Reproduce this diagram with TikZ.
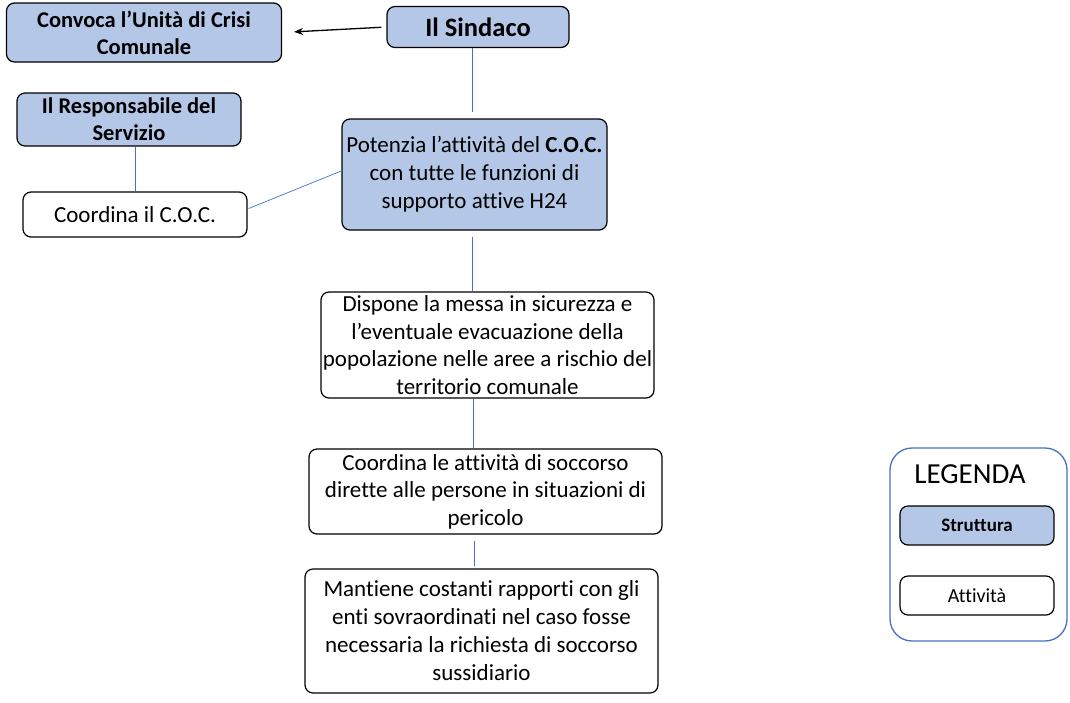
\documentclass[tikz,border=0pt]{standalone}
\usepackage{fontspec}
\setmainfont[Ligatures=NoCommon]{Carlito}
\usetikzlibrary{arrows.meta}
\definecolor{boxblue}{HTML}{B4C7E7}
\definecolor{lineblue}{HTML}{4472C4}
\begin{document}
\begin{tikzpicture}[x=1pt,y=-1pt,
  base/.style={draw=black,line width=1.2pt,rounded corners=8pt,inner sep=0pt,align=center},
  struct/.style={base,fill=boxblue,font=\bfseries\fontsize{22.5}{27}\selectfont},
  act/.style={base,fill=white,font=\fontsize{23}{27.5}\selectfont},
  conn/.style={draw=lineblue,line width=0.7pt}]
\useasboundingbox (0,0) rectangle (1070,702);
\node[struct,minimum width=275pt,minimum height=59pt] (conv) at (144,32.5) {Convoca l’Unità di Crisi\\Comunale};
\node[struct,minimum width=182pt,minimum height=41pt,font=\bfseries\fontsize{26.5}{30}\selectfont] (sind) at (478,27) {Il Sindaco};
\node[struct,minimum width=224pt,minimum height=53pt] (resp) at (129,119.5) {Il Responsabile del\\Servizio};
\node[act,minimum width=224pt,minimum height=45pt] (coc) at (135,214.5) {Coordina il C.O.C.};
\node[act,fill=boxblue,minimum width=265pt,minimum height=111pt,font=\fontsize{23}{28}\selectfont] (pot) at (474.5,174.5) {Potenzia l’attività del \textbf{C.O.C.}\\con tutte le funzioni di\\supporto attive H24};
\node[act,minimum width=333pt,minimum height=106pt] (disp) at (487.5,345) {Dispone la messa in sicurezza e\\l’eventuale evacuazione della\\popolazione nelle aree a rischio del\\territorio comunale};
\node[act,minimum width=353pt,minimum height=85pt] (coord) at (485.5,491.5) {Coordina le attività di soccorso\\dirette alle persone in situazioni di\\pericolo};
\node[act,minimum width=353pt,minimum height=124pt,font=\fontsize{23}{28}\selectfont] (mant) at (481.5,631) {Mantiene costanti rapporti con gli\\enti sovraordinati nel caso fosse\\necessaria la richiesta di soccorso\\sussidiario};
% legend
\node[draw=lineblue,line width=1.3pt,rounded corners=22pt,minimum width=177pt,minimum height=193pt,inner sep=0pt] (leg) at (978.5,544.5) {};
\node[font=\fontsize{29}{32}\selectfont,inner sep=0pt] (legt) at (970,474) {LEGENDA};
\node[struct,minimum width=154pt,minimum height=39pt,font=\bfseries\fontsize{19}{22}\selectfont] (str) at (977,525.5) {Struttura};
\node[act,minimum width=154pt,minimum height=39pt,font=\fontsize{20}{23}\selectfont] (att) at (977,595.5) {Attività};
% connectors
\draw[line width=1.3pt,-{Stealth[length=9pt,width=7pt]},shorten <=5pt,shorten >=12pt] (sind.west) -- (conv.east);
\draw[conn,shorten >=6pt] ([xshift=-6pt]sind.south) -- ([xshift=-6pt]sind.south |- pot.north);
\draw[conn] (resp.south -| coc.north) -- (coc.north);
\draw[conn] ([xshift=1pt,yshift=6pt]coc.east) -- ([xshift=1pt,yshift=4pt]pot.west);
\draw[conn,shorten <=6pt] ([xshift=-2pt]pot.south) -- ([xshift=-2pt]pot.south |- disp.north);
\draw[conn] ([xshift=-14pt]disp.south) -- ([xshift=-14pt]disp.south |- coord.north);
\draw[conn,shorten <=6pt,shorten >=2pt] ([xshift=-11pt]coord.south) -- ([xshift=-11pt]coord.south |- mant.north);
\end{tikzpicture}
\end{document}
